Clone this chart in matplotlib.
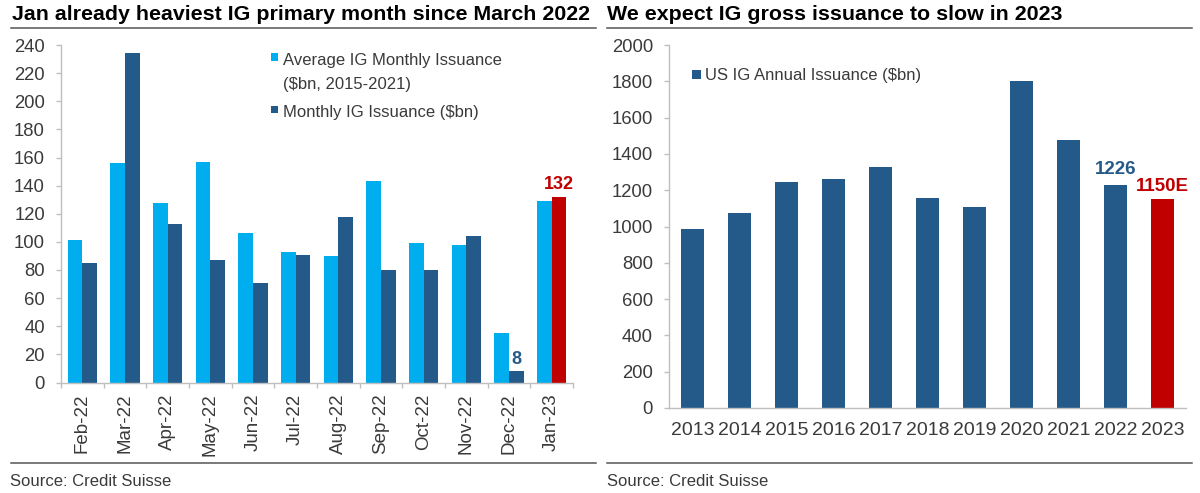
import matplotlib
matplotlib.use("Agg")
import matplotlib.pyplot as plt
from matplotlib.lines import Line2D
from matplotlib.patches import Rectangle
import numpy as np

# ---------------- data ----------------
months = ["Feb-22", "Mar-22", "Apr-22", "May-22", "Jun-22", "Jul-22",
          "Aug-22", "Sep-22", "Oct-22", "Nov-22", "Dec-22", "Jan-23"]
avg_monthly = [101, 156, 128, 157, 106, 93, 90, 143, 99, 98, 35, 129]
monthly_issuance = [85, 234, 113, 87, 71, 91, 118, 80, 80, 104, 8, 132]

years = ["2013", "2014", "2015", "2016", "2017", "2018",
         "2019", "2020", "2021", "2022", "2023"]
annual_issuance = [985, 1075, 1247, 1262, 1330, 1157, 1110, 1800, 1475, 1226, 1150]

left_title = "Jan already heaviest IG primary month since March 2022"
right_title = "We expect IG gross issuance to slow in 2023"
source = "Source: Credit Suisse"
legend_avg = ["Average IG Monthly Issuance", "($bn, 2015-2021)"]
legend_monthly = "Monthly IG Issuance ($bn)"
legend_annual = "US IG Annual Issuance ($bn)"

# ---------------- style ----------------
LIGHT = "#00AEEF"
DARK = "#245A8A"
RED = "#C00000"
AXIS = "#BFBFBF"
TXT = "#3A3A3A"
RULE = "#555555"

plt.rcParams["font.family"] = ["Liberation Sans", "DejaVu Sans"]

W, H = 1200, 493
fig = plt.figure(figsize=(W / 100, H / 100), dpi=100)


def fx(px):
    return px / W


def fy(py):
    return 1 - py / H


def style_axes(ax):
    for s in ["top", "right"]:
        ax.spines[s].set_visible(False)
    for s in ["left", "bottom"]:
        ax.spines[s].set_color(AXIS)
        ax.spines[s].set_linewidth(1.0)
    ax.tick_params(axis="y", direction="out", length=3.6, width=1.0,
                   color=AXIS, labelsize=13.3, labelcolor=TXT, pad=8)


# ---------------- left chart ----------------
ax1 = fig.add_axes([fx(61), fy(382.5), fx(573) - fx(61), fy(45) - fy(382.5)])
style_axes(ax1)
x = np.arange(len(months))
w = 0.34
ax1.bar(x - w / 2, avg_monthly, width=w, color=LIGHT, linewidth=0)
m_colors = [DARK] * (len(months) - 1) + [RED]
ax1.bar(x + w / 2, monthly_issuance, width=w, color=m_colors, linewidth=0)
ax1.set_xlim(-0.5, len(months) - 0.5)
ax1.set_ylim(0, 240)
ax1.set_yticks(np.arange(0, 241, 20))
ax1.set_xticks(x)
ax1.set_xticklabels(months, rotation=90)
ax1.set_xticks(np.arange(-0.5, len(months), 1.0), minor=True)
ax1.tick_params(axis="x", which="major", length=0, labelsize=13.5,
                labelcolor=TXT, pad=8)
ax1.tick_params(axis="x", which="minor", length=3.6, width=1.0,
                color=AXIS, direction="out")

ax1.annotate(str(monthly_issuance[-1]), (x[-1] + w / 2, monthly_issuance[-1]),
             xytext=(0, 2.5), textcoords="offset points", ha="center",
             va="bottom", color=RED, fontsize=13, fontweight="bold")
ax1.annotate(str(monthly_issuance[-2]), (x[-2] + w / 2, monthly_issuance[-2]),
             xytext=(0, 2.5), textcoords="offset points", ha="center",
             va="bottom", color=DARK, fontsize=13, fontweight="bold")

# ---------------- right chart ----------------
ax2 = fig.add_axes([fx(669), fy(408), fx(1186) - fx(669), fy(45) - fy(408)])
style_axes(ax2)
xr = np.arange(len(years))
r_colors = [DARK] * (len(years) - 1) + [RED]
ax2.bar(xr, annual_issuance, width=0.5, color=r_colors, linewidth=0)
ax2.set_xlim(-0.5, len(years) - 0.5)
ax2.set_ylim(0, 2000)
ax2.set_yticks(np.arange(0, 2001, 200))
ax2.set_xticks(xr)
ax2.set_xticklabels(years)
ax2.tick_params(axis="x", length=0, labelsize=14, labelcolor=TXT, pad=10)

ax2.annotate(str(annual_issuance[-2]), (xr[-2], annual_issuance[-2]),
             xytext=(0, 5.5), textcoords="offset points", ha="center",
             va="bottom", color=DARK, fontsize=13.5, fontweight="bold")
ax2.annotate(f"{annual_issuance[-1]}E", (xr[-1], annual_issuance[-1]),
             xytext=(0, 3), textcoords="offset points", ha="center",
             va="bottom", color=RED, fontsize=13.5, fontweight="bold")

# ---------------- legends (manual, figure pixels) ----------------
def legend_square(px, py, color, size=8):
    fig.add_artist(Rectangle((fx(px), fy(py + size)), size / W, size / H,
                             transform=fig.transFigure, color=color, lw=0))


legend_square(271, 53.5, LIGHT, 7)
fig.text(fx(283), fy(65), legend_avg[0], fontsize=12, color=TXT, va="baseline")
fig.text(fx(283), fy(88.5), legend_avg[1], fontsize=12, color=TXT, va="baseline")
legend_square(271, 106, DARK, 7)
fig.text(fx(283), fy(116.5), legend_monthly, fontsize=12, color=TXT, va="baseline")

legend_square(692, 70.5, DARK, 8.5)
fig.text(fx(705), fy(80), legend_annual, fontsize=12, color=TXT, va="baseline")

# ---------------- titles, rules, sources ----------------
fig.text(fx(12), fy(20.5), left_title, fontsize=15.4, fontweight="bold",
         color="black", va="baseline")
fig.text(fx(607), fy(20.5), right_title, fontsize=15.4, fontweight="bold",
         color="black", va="baseline")
for x0, x1 in [(11, 596), (607, 1192)]:
    for yy in (27.5, 462.5):
        fig.add_artist(Line2D([fx(x0), fx(x1)], [fy(yy), fy(yy)],
                              transform=fig.transFigure, color=RULE, lw=1.1))
fig.text(fx(10), fy(486.5), source, fontsize=12, color=TXT, va="baseline")
fig.text(fx(607), fy(486.5), source, fontsize=12, color=TXT, va="baseline")

fig.savefig("out.png", dpi=100)
